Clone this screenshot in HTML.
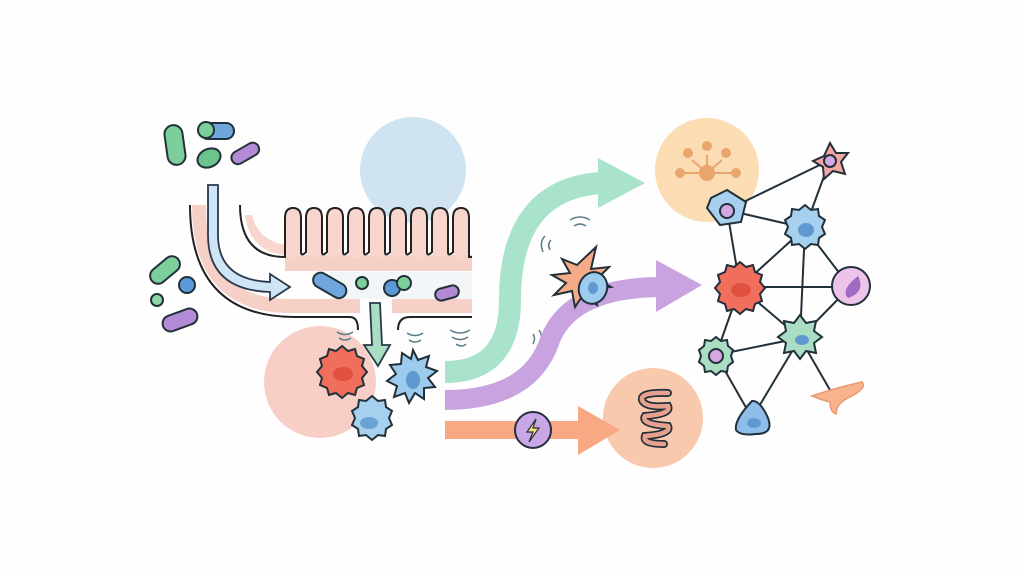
<!DOCTYPE html>
<html><head><meta charset="utf-8"><style>html,body{margin:0;padding:0;background:#fff}svg{display:block}</style></head>
<body>
<svg width="1024" height="572" viewBox="0 0 1024 572" xmlns="http://www.w3.org/2000/svg">
<rect width="1024" height="572" fill="#fefefe"/>
<!-- background circles -->
<circle cx="413" cy="170" r="53" fill="#cfe3f1"/>
<circle cx="320" cy="382" r="56" fill="#f8cfc6"/>
<circle cx="707" cy="170" r="52" fill="#fbdcb3"/>
<circle cx="653" cy="418" r="50" fill="#f9c9ad"/>

<!-- gut pink bands -->
<path d="M199 205 Q199 306 290 306 L360 306" stroke="#f6cfc6" stroke-width="14" fill="none"/>
<path d="M392 306 L472 306" stroke="#f6cfc6" stroke-width="14" fill="none"/>
<rect x="285" y="255" width="187" height="16" fill="#f6cfc6"/>
<rect x="330" y="272" width="142" height="27" fill="#f2f6f8"/>
<!-- villi pink fills -->
<g fill="#f8d6cd">
<rect x="285" y="208" width="16" height="50" rx="8"/>
<rect x="306" y="208" width="16" height="50" rx="8"/>
<rect x="327" y="208" width="16" height="50" rx="8"/>
<rect x="348" y="208" width="16" height="50" rx="8"/>
<rect x="369" y="208" width="16" height="50" rx="8"/>
<rect x="390" y="208" width="16" height="50" rx="8"/>
<rect x="411" y="208" width="16" height="50" rx="8"/>
<rect x="432" y="208" width="16" height="50" rx="8"/>
<rect x="453" y="208" width="16" height="50" rx="8"/>
<path d="M245 215 Q250 252 285 255 L285 245 Q258 240 252 215 Z"/>
</g>
<g stroke="#222" stroke-width="2">
<path d="M240 205 Q240 257 285 257 L285 218 Q285 208 293 208 Q301 208 301 218 L301 252 Q301 257 306 252 L306 218 Q306 208 314 208 Q322 208 322 218 L322 252 Q322 257 327 252 L327 218 Q327 208 335 208 Q343 208 343 218 L343 252 Q343 257 348 252 L348 218 Q348 208 356 208 Q364 208 364 218 L364 252 Q364 257 369 252 L369 218 Q369 208 377 208 Q385 208 385 218 L385 252 Q385 257 390 252 L390 218 Q390 208 398 208 Q406 208 406 218 L406 252 Q406 257 411 252 L411 218 Q411 208 419 208 Q427 208 427 218 L427 252 Q427 257 432 252 L432 218 Q432 208 440 208 Q448 208 448 218 L448 252 Q448 257 453 252 L453 218 Q453 208 461 208 Q469 208 469 218 L469 257 L472 257" fill="none"/>
</g>
<path d="M190 205 Q190 317 295 317 L350 317 Q358 317 358 330" stroke="#222" stroke-width="2" fill="none"/>
<path d="M398 330 Q398 317 410 317 L472 317" stroke="#222" stroke-width="2" fill="none"/>

<!-- blue arrow -->
<path d="M208 185 L218 185 L218 235 Q218 280 270 282 L270 274 L290 287 L270 300 L270 292 Q208 290 208 235 Z" fill="#cfe5f6" stroke="#2a3a4a" stroke-width="1.8"/>
<!-- green down arrow -->
<path d="M370 303 L380 303 L382 345 L390 345 L378 366 L364 345 L372 345 Z" fill="#a9dec4" stroke="#2a3a4a" stroke-width="1.8"/>

<!-- bacteria -->
<g stroke="#22303a" stroke-width="2">
<rect x="166" y="125" width="18" height="40" rx="9" fill="#7ccf9a" transform="rotate(-8 175 145)"/>
<rect x="200" y="123" width="34" height="16" rx="8" fill="#6fa6dc"/>
<circle cx="206" cy="130" r="8" fill="#7ccf9a"/>
<ellipse cx="209" cy="158" rx="12" ry="9" fill="#6cc38c" transform="rotate(-25 209 158)"/>
<rect x="230" y="147" width="30" height="13" rx="6.5" fill="#b38ad6" transform="rotate(-30 245 153)"/>
<rect x="148" y="262" width="34" height="16" rx="8" fill="#7ccf9a" transform="rotate(-40 165 270)"/>
<circle cx="187" cy="285" r="8" fill="#5a9ad8"/>
<circle cx="157" cy="300" r="6" fill="#8fd6a8"/>
<rect x="162" y="312" width="36" height="16" rx="8" fill="#b38ad6" transform="rotate(-20 180 320)"/>
<rect x="312" y="278" width="36" height="15" rx="7.5" fill="#6fa6dc" transform="rotate(30 330 285)"/>
<circle cx="362" cy="283" r="6" fill="#7ccf9a"/>
<circle cx="392" cy="288" r="8" fill="#5a9ad8"/>
<circle cx="404" cy="283" r="7" fill="#7ccf9a"/>
<rect x="435" y="287" width="24" height="12" rx="6" fill="#b38ad6" transform="rotate(-15 447 293)"/>
</g>

<!-- signal waves -->
<g stroke="#5a7a8a" stroke-width="1.5" fill="none">
<path d="M337 332 q8 5 16 0 M339 338 q6 4 12 0"/>
<path d="M407 333 q8 5 16 0 M409 340 q6 4 12 0"/>
<path d="M450 330 q10 6 20 0 M452 337 q8 5 16 0 M456 344 q6 4 10 0"/>
<path d="M570 220 q10 -6 20 0 M574 226 q6 -4 12 0"/>
<path d="M545 236 q-6 6 -2 16 M551 240 q-4 4 -1 10"/>
<path d="M545 328 q6 8 0 20 M539 330 q5 7 0 16 M533 334 q3 4 0 10"/>
</g>

<!-- cells in pink circle -->
<g stroke="#22303a" stroke-width="2">
<path d="M342 346 l6 5 7 -2 2 7 7 3 -2 7 5 6 -5 6 2 7 -7 3 -2 7 -7 -2 -6 5 -6 -5 -7 2 -2 -7 -7 -3 2 -7 -5 -6 5 -6 -2 -7 7 -3 2 -7 7 2 z" fill="#ef6e5c"/>
<ellipse cx="343" cy="374" rx="10" ry="7" fill="#e2503f" stroke="none"/>
<path d="M413 350 l5 10 11 -4 -3 11 11 4 -9 7 7 9 -11 1 0 11 -9 -6 -6 10 -4 -10 -11 4 3 -11 -10 -5 9 -7 -6 -9 11 -1 1 -11 9 6 z" fill="#9ccbed"/>
<ellipse cx="413" cy="380" rx="7" ry="9" fill="#5f99cf" stroke="none"/>
<path d="M372 396 l6 5 7 -1 1 7 6 4 -3 7 3 7 -6 4 -1 7 -7 -1 -6 5 -6 -5 -7 1 -1 -7 -6 -4 3 -7 -3 -7 6 -4 1 -7 7 1 z" fill="#a6d0ee"/>
<ellipse cx="369" cy="423" rx="9" ry="6" fill="#6aa2d4" stroke="none"/>
</g>

<!-- flow arrows -->
<path d="M445 372 Q510 372 510 300 Q510 190 600 183" stroke="#a9e3cb" stroke-width="22" fill="none"/>
<path d="M598 158 L645 183 L598 208 Z" fill="#a9e3cb"/>
<path d="M445 400 Q530 400 550 340 Q570 288 660 287" stroke="#c8a3e0" stroke-width="20" fill="none"/>
<path d="M656 260 L702 285 L656 312 Z" fill="#c8a3e0"/>
<rect x="445" y="421" width="140" height="18" fill="#f8a882"/>
<path d="M578 406 L620 430 L578 455 Z" fill="#f8a882"/>
<circle cx="533" cy="430" r="18" fill="#c9a7e6" stroke="#22303a" stroke-width="2"/>
<path d="M536 419 L527 432 L533 432 L529 442 L539 428 L533 428 Z" fill="#f6e27a" stroke="#22303a" stroke-width="1.2"/>

<!-- spiky cell -->
<path d="M596 247 l-5 22 18 -2 -12 12 14 8 -18 2 4 16 -14 -10 -8 12 -3 -16 -18 4 12 -12 -14 -8 18 -2 -8 -14 15 6 z" fill="#f6ab88" stroke="#22303a" stroke-width="2"/>
<ellipse cx="593" cy="288" rx="14" ry="16" fill="#9ccbed" stroke="#22303a" stroke-width="2" transform="rotate(20 593 288)"/>
<ellipse cx="593" cy="288" rx="5" ry="6" fill="#5f99cf"/>

<!-- worm -->
<path d="M668 393 Q640 392 642 400 Q645 408 668 406 Q672 414 645 416 Q640 424 668 426 Q672 434 645 436 Q642 444 664 444" stroke="#22303a" stroke-width="8" fill="none" stroke-linecap="round"/>
<path d="M668 393 Q640 392 642 400 Q645 408 668 406 Q672 414 645 416 Q640 424 668 426 Q672 434 645 436 Q642 444 664 444" stroke="#e7a08e" stroke-width="4.5" fill="none" stroke-linecap="round"/>

<!-- orange burst -->
<g stroke="#e8a56c" stroke-width="2" fill="#e8a56c">
<line x1="707" y1="173" x2="707" y2="155"/><line x1="707" y1="173" x2="692" y2="160"/><line x1="707" y1="173" x2="722" y2="160"/><line x1="707" y1="173" x2="680" y2="173"/><line x1="707" y1="173" x2="734" y2="173"/>
<circle cx="707" cy="173" r="7"/><circle cx="707" cy="146" r="4"/><circle cx="688" cy="153" r="4"/><circle cx="726" cy="153" r="4"/><circle cx="680" cy="173" r="4"/><circle cx="736" cy="173" r="4"/>
</g>

<!-- network edges -->
<g stroke="#22303a" stroke-width="2">
<line x1="727" y1="210" x2="830" y2="160"/><line x1="830" y1="160" x2="805" y2="228"/>
<line x1="727" y1="210" x2="805" y2="228"/><line x1="727" y1="210" x2="740" y2="287"/>
<line x1="805" y1="228" x2="740" y2="287"/><line x1="805" y1="228" x2="800" y2="338"/><line x1="805" y1="228" x2="850" y2="287"/>
<line x1="740" y1="287" x2="850" y2="287"/><line x1="740" y1="287" x2="800" y2="338"/><line x1="740" y1="287" x2="716" y2="355"/>
<line x1="850" y1="287" x2="800" y2="338"/><line x1="716" y1="355" x2="800" y2="338"/>
<line x1="716" y1="355" x2="752" y2="418"/><line x1="800" y1="338" x2="752" y2="418"/><line x1="800" y1="338" x2="830" y2="390"/>
</g>
<!-- network nodes -->
<g stroke="#22303a" stroke-width="2">
<path d="M830 143 l6 10 12 0 -7 9 4 12 -12 -3 -9 8 -1 -12 -10 -6 11 -5 z" fill="#f4a6a4"/>
<circle cx="830" cy="161" r="6" fill="#d3a8e4"/>
<path d="M727 190 l19 12 -5 20 -21 3 -13 -17 4 -10 z" fill="#a6d0ee"/>
<circle cx="727" cy="211" r="7" fill="#d3a8e4"/>
<path d="M805 205 l6 5 7 -1 1 7 6 4 -3 7 3 7 -6 4 -1 7 -7 -1 -6 5 -6 -5 -7 1 -1 -7 -6 -4 3 -7 -3 -7 6 -4 1 -7 7 1 z" fill="#a6d0ee"/>
<ellipse cx="806" cy="230" rx="8" ry="7" fill="#5f99cf" stroke="none"/>
<path d="M740 262 l6 5 7 -2 2 7 7 3 -2 7 5 6 -5 6 2 7 -7 3 -2 7 -7 -2 -6 5 -6 -5 -7 2 -2 -7 -7 -3 2 -7 -5 -6 5 -6 -2 -7 7 -3 2 -7 7 2 z" fill="#ef6e5c"/>
<ellipse cx="741" cy="290" rx="10" ry="7" fill="#e2503f" stroke="none"/>
<circle cx="851" cy="286" r="19" fill="#ecc4ea"/>
<path d="M858 276 Q866 292 848 298 Q840 290 858 276 Z" fill="#a06ac2" stroke="none"/>
<path d="M800 315 l6 8 10 -2 -2 10 8 6 -8 6 2 10 -10 -2 -6 8 -6 -8 -10 2 2 -10 -8 -6 8 -6 -2 -10 10 2 z" fill="#a9dec4"/>
<ellipse cx="802" cy="340" rx="7" ry="5" fill="#5f99cf" stroke="none"/>
<path d="M716 337 l5 4 6 -1 1 6 5 4 -2 6 2 6 -5 4 -1 6 -6 -1 -5 4 -5 -4 -6 1 -1 -6 -5 -4 2 -6 -2 -6 5 -4 1 -6 6 1 z" fill="#a9dec4"/>
<circle cx="716" cy="356" r="7" fill="#d3a8e4"/>
<path d="M752 401 Q760 400 768 418 Q774 434 756 434 Q740 436 736 430 Q734 420 752 401 Z" fill="#8fbde9"/>
<ellipse cx="754" cy="423" rx="7" ry="5" fill="#5f99cf" stroke="none"/>
</g>
<path d="M812 396 Q835 388 862 382 Q868 388 848 398 Q836 404 836 414 Q830 412 830 402 Q822 400 812 396 Z" fill="#f6b38e" stroke="#e79a70" stroke-width="1.5"/>
</svg>
</body></html>
